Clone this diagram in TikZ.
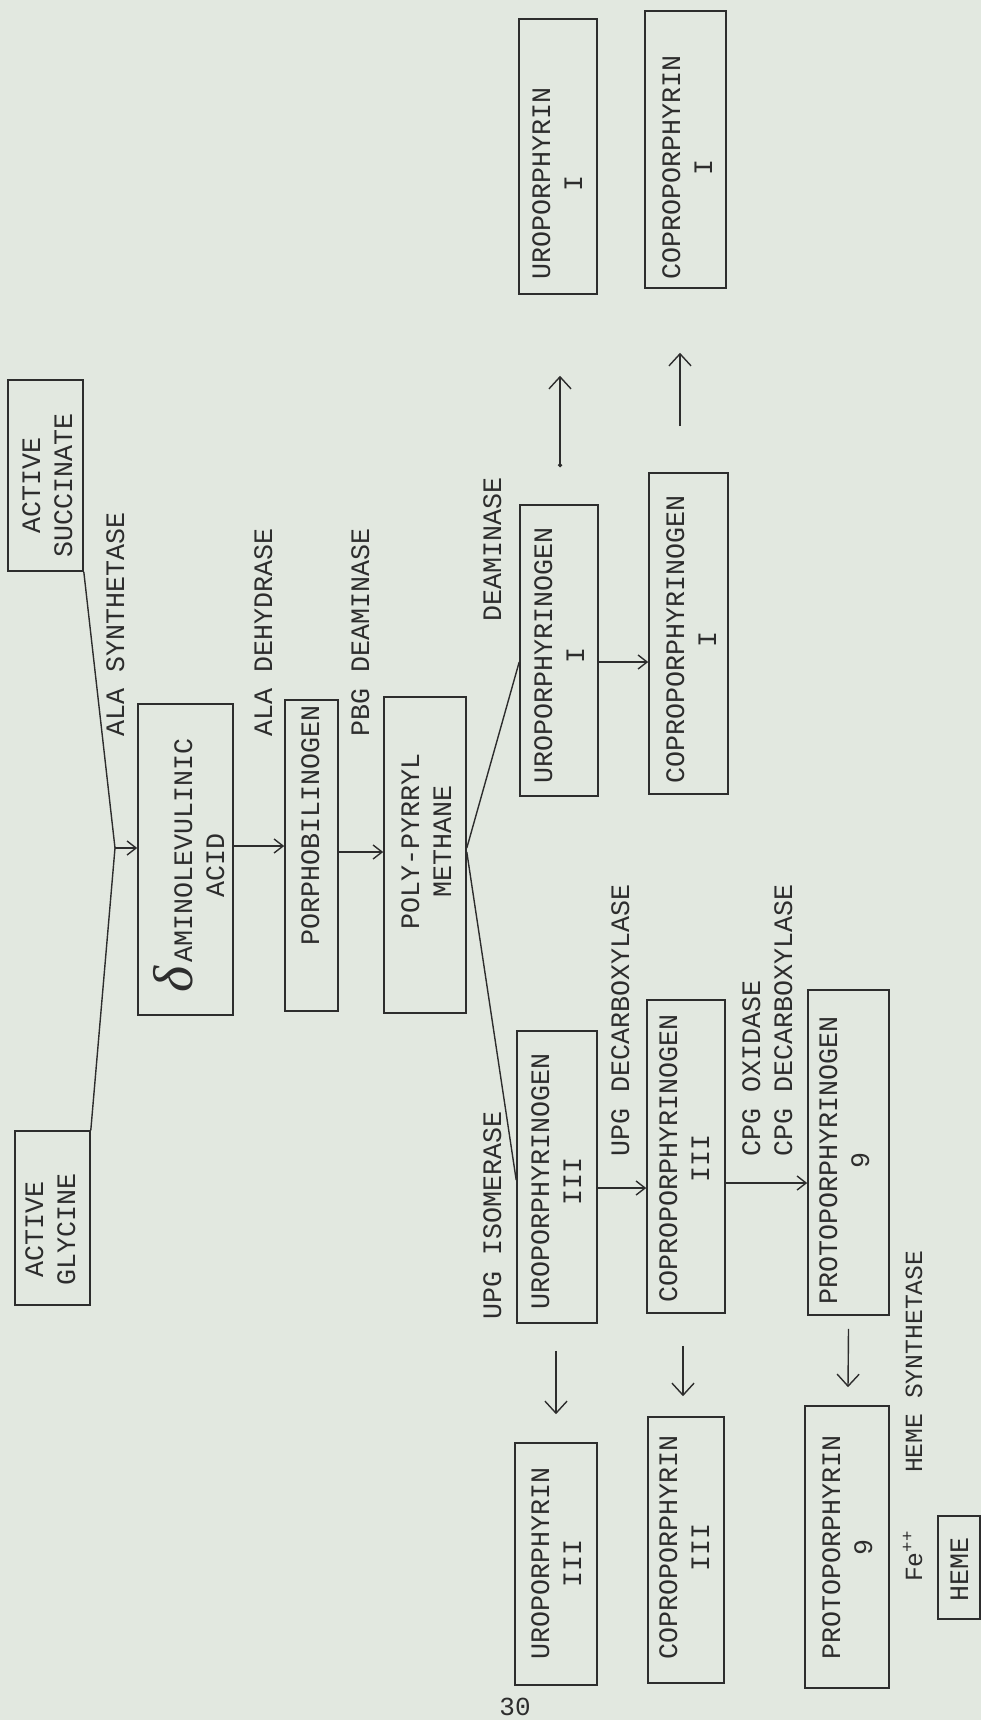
\documentclass[tikz,border=0pt]{standalone}
\usepackage{fontspec}
\usetikzlibrary{arrows.meta}
\newfontfamily\twfont{Liberation Mono}
\newfontfamily\gkfont{Liberation Serif}
\definecolor{paper}{RGB}{226,232,224}
\definecolor{ink}{RGB}{45,45,45}
\begin{document}
\begin{tikzpicture}[x=1pt,y=-1pt,
  box/.style={draw=ink, line width=1.6pt, inner sep=0pt, rectangle},
  lbl/.style={rotate=90, anchor=base west, inner sep=0pt, text=ink, font={\twfont\fontsize{26.67}{32}\selectfont}},
  conn/.style={draw=ink, line width=1.4pt},
  arr/.style={conn, -{Straight Barb[length=9pt,width=14pt]}},
  varr/.style={conn, -{Straight Barb[length=12pt,width=22pt]}}]
\fill[paper] (0,0) rectangle (981,1720);
\useasboundingbox (0,0) rectangle (981,1720);

% boxes
\node[box, minimum width=75pt, minimum height=191pt] (succ) at (45.5,475.5) {};
\node[box, minimum width=75pt, minimum height=174pt] (gly) at (52.5,1218) {};
\node[box, minimum width=95pt, minimum height=311pt] (ala) at (185.5,859.5) {};
\node[box, minimum width=53pt, minimum height=311pt] (porph) at (311.5,855.5) {};
\node[box, minimum width=82pt, minimum height=316pt] (poly) at (425,855) {};
\node[box, minimum width=78pt, minimum height=291pt] (urogenI) at (559,650.5) {};
\node[box, minimum width=79pt, minimum height=321pt] (coprogenI) at (688.5,633.5) {};
\node[box, minimum width=78pt, minimum height=275pt] (uroI) at (558,156.5) {};
\node[box, minimum width=81pt, minimum height=277pt] (coproI) at (685.5,149.5) {};
\node[box, minimum width=80pt, minimum height=292pt] (urogenIII) at (557,1177) {};
\node[box, minimum width=78pt, minimum height=313pt] (coprogenIII) at (686,1156.5) {};
\node[box, minimum width=81pt, minimum height=325pt] (protogen) at (848.5,1152.5) {};
\node[box, minimum width=82pt, minimum height=242pt] (uroIII) at (556,1564) {};
\node[box, minimum width=76pt, minimum height=266pt] (coproIII) at (686,1550) {};
\node[box, minimum width=84pt, minimum height=282pt] (proto) at (847,1547) {};
\node[box, minimum width=42pt, minimum height=103pt] (heme) at (959,1567.5) {};

% box texts
\node[lbl] (succ-t) at (72,558) {\begin{tabular}[b]{@{}c@{}}ACTIVE\\SUCCINATE\end{tabular}};
\node[lbl] (gly-t) at (75,1286) {\begin{tabular}[b]{@{}c@{}}ACTIVE\\GLYCINE\end{tabular}};
\node[lbl] (ala-t) at (224,993) {\begin{tabular}[b]{@{}c@{}}{\gkfont\itshape\fontsize{56}{56}\selectfont δ}\hspace{4pt}AMINOLEVULINIC\\ACID\end{tabular}};
\node[lbl] (porph-t) at (319,946) {PORPHOBILINOGEN};
\node[lbl] (poly-t) at (451,930) {\begin{tabular}[b]{@{}c@{}}POLY-PYRRYL\\METHANE\end{tabular}};
\node[lbl] (urogenI-t) at (584,784) {\begin{tabular}[b]{@{}c@{}}UROPORPHYRINOGEN\\I\end{tabular}};
\node[lbl] (coprogenI-t) at (716,784) {\begin{tabular}[b]{@{}c@{}}COPROPORPHYRINOGEN\\I\end{tabular}};
\node[lbl] (uroI-t) at (582,280) {\begin{tabular}[b]{@{}c@{}}UROPORPHYRIN\\I\end{tabular}};
\node[lbl] (coproI-t) at (712,280) {\begin{tabular}[b]{@{}c@{}}COPROPORPHYRIN\\I\end{tabular}};
\node[lbl] (urogenIII-t) at (581,1310) {\begin{tabular}[b]{@{}c@{}}UROPORPHYRINOGEN\\III\end{tabular}};
\node[lbl] (coprogenIII-t) at (709,1303) {\begin{tabular}[b]{@{}c@{}}COPROPORPHYRINOGEN\\III\end{tabular}};
\node[lbl] (protogen-t) at (869,1305) {\begin{tabular}[b]{@{}c@{}}PROTOPORPHYRINOGEN\\9\end{tabular}};
\node[lbl] (uroIII-t) at (581,1660) {\begin{tabular}[b]{@{}c@{}}UROPORPHYRIN\\III\end{tabular}};
\node[lbl] (coproIII-t) at (709,1660) {\begin{tabular}[b]{@{}c@{}}COPROPORPHYRIN\\III\end{tabular}};
\node[lbl] (proto-t) at (872,1660) {\begin{tabular}[b]{@{}c@{}}PROTOPORPHYRIN\\9\end{tabular}};
\node[lbl] (heme-t) at (968,1602) {HEME};

% enzyme labels
\node[lbl] (synth-t) at (124,737) {ALA SYNTHETASE};
\node[lbl] (dehyd-t) at (272,737) {ALA DEHYDRASE};
\node[lbl] (pbg-t) at (369,737) {PBG DEAMINASE};
\node[lbl] (deam-t) at (501,622) {DEAMINASE};
\node[lbl] (isom-t) at (501,1320) {UPG ISOMERASE};
\node[lbl] (updc-t) at (629,1157) {UPG DECARBOXYLASE};
\node[lbl] (cpg-t) at (792,1157) {\begin{tabular}[b]{@{}l@{}}CPG OXIDASE\\CPG DECARBOXYLASE\end{tabular}};
\node[lbl, font={\twfont\fontsize{24.7}{30}\selectfont}] (hemes-t) at (922,1582) {Fe\textsuperscript{++}\hspace{58pt}HEME SYNTHETASE};

\node[inner sep=0pt, text=ink, font={\twfont\fontsize{26}{26}\selectfont}] (pg) at (515,1707) {30};

% level coordinates
\coordinate (J) at (115,848);
\coordinate (y846) at (0,846);
\coordinate (y848) at (0,848);
\coordinate (y852) at (0,852);
\coordinate (y662) at (0,662);
\coordinate (y1180) at (0,1180);
\coordinate (y1188) at (0,1188);
\coordinate (y1183) at (0,1183);

% connectors
\draw[conn] (succ.south east) -- (J);
\draw[conn] (gly.north east) -- (J);
\draw[arr] (J) -- (ala.west |- J);
\draw[arr] (ala.east |- y846) -- (porph.west |- y846);
\draw[arr] (porph.east |- y852) -- (poly.west |- y852);
\draw[conn] (poly.east |- y848) -- (urogenI.west |- y662);
\draw[conn] (poly.east |- y852) -- (urogenIII.west |- y1180);
\draw[arr] (urogenI.east |- y662) -- (coprogenI.west |- y662);
\draw[arr] (urogenIII.east |- y1188) -- (coprogenIII.west |- y1188);
\draw[arr] (coprogenIII.east |- y1183) -- (protogen.west |- y1183);

\draw[conn, {Circle[length=4pt]}-{Straight Barb[length=12pt,width=22pt]}] ([xshift=1pt,yshift=37pt]urogenI.north) -- ([xshift=2pt,yshift=-81pt]uroI.south);
\draw[varr] ([xshift=-8.5pt,yshift=46pt]coprogenI.north) -- ([xshift=-5.5pt,yshift=-64pt]coproI.south);
\draw[varr] ([xshift=-1pt,yshift=-27pt]urogenIII.south) -- ([yshift=28pt]uroIII.north);
\draw[varr] ([xshift=-3pt,yshift=-32pt]coprogenIII.south) -- ([xshift=-3pt,yshift=20pt]coproIII.north);
\draw[varr] ([yshift=-13pt]protogen.south) -- ([xshift=1pt,yshift=18pt]proto.north);
\end{tikzpicture}
\end{document}
